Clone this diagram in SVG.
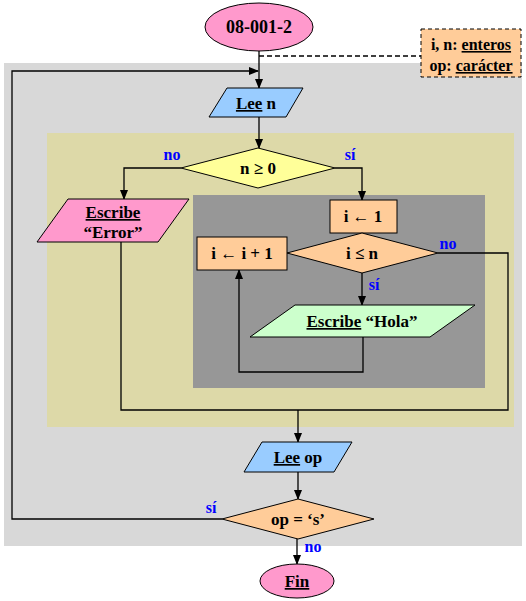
<svg xmlns="http://www.w3.org/2000/svg" width="526" height="601" viewBox="0 0 526 601">
<defs>
<marker id="ah" markerWidth="10" markerHeight="10" refX="9" refY="5" orient="auto" markerUnits="userSpaceOnUse">
<path d="M0,1 L10,5 L0,9 Z" fill="#000"/>
</marker>
<style>
text{font-family:"Liberation Serif","Times New Roman",serif;font-size:17px;fill:#000;text-anchor:middle}
.b{font-weight:bold}
.u{text-decoration:underline}
.lbl{font-weight:bold;fill:#0000FF;font-size:16px}
.sh{stroke:#000;stroke-width:1}
.ln{fill:none;stroke:#000;stroke-width:1.3}
.ar{fill:none;stroke:#000;stroke-width:1.3;marker-end:url(#ah)}
</style>
</defs>
<rect x="0" y="0" width="526" height="601" fill="#fff"/>
<g id="regions">
<rect x="4" y="63" width="518" height="483" fill="#D8D8D8"/>
<rect x="47" y="133" width="467" height="294" fill="#DDD9A8"/>
<rect x="193" y="195" width="292" height="193" fill="#979797"/>
</g>
<g id="connectors">
<line class="ar" x1="259" y1="51" x2="259" y2="88"/>
<polyline class="ar" points="222,519 12,519 12,71 258,71"/>
<line class="ln" x1="259" y1="56" x2="421" y2="56" stroke-dasharray="5,3"/>
<line class="ar" x1="259" y1="117" x2="259" y2="148"/>
<polyline class="ar" points="181,168 124,168 124,199"/>
<polyline class="ar" points="335,168 362,168 362,200"/>
<line class="ar" x1="362" y1="273" x2="362" y2="305"/>
<polyline class="ar" points="363,337 363,372 239,372 239,270"/>
<polyline class="ln" points="438,253 508,253 508,410 121,410 121,242"/>
<line class="ar" x1="298" y1="410" x2="298" y2="442"/>
<line class="ar" x1="298" y1="472" x2="298" y2="499"/>
<line class="ar" x1="297" y1="538" x2="297" y2="564"/>
<text class="lbl" x="172" y="160">no</text>
<text class="lbl" x="350" y="160">sí</text>
<text class="lbl" x="448" y="249">no</text>
<text class="lbl" x="374" y="290">sí</text>
<text class="lbl" x="211" y="513">sí</text>
<text class="lbl" x="313" y="552">no</text>
</g>
<g id="start">
<ellipse class="sh" cx="259" cy="27" rx="54" ry="24" fill="#FF99CC"/>
<text class="b" x="259" y="33" style="font-size:18px">08-001-2</text>
</g>
<g id="decl">
<rect x="421" y="29" width="100" height="48" fill="#FFCC99" stroke="#000" stroke-dasharray="4,3"/>
<text x="471" y="50" style="font-size:16px"><tspan class="b">i, n: </tspan><tspan class="b u">enteros</tspan></text>
<text x="471" y="71" style="font-size:16px"><tspan class="b">op: </tspan><tspan class="b u">carácter</tspan></text>
</g>
<g id="leen">
<polygon class="sh" points="227,88 303,88 286,117 209,117" fill="#99CCFF"/>
<text class="b" x="256" y="109"><tspan class="u">Lee</tspan> n</text>
</g>
<g id="cond1">
<polygon class="sh" points="181,168 258,148 335,168 258,188" fill="#FFFF99"/>
<text class="b" x="258" y="174">n ≥ 0</text>
</g>
<g id="error">
<polygon class="sh" points="68,199 189,199 158,242 37,242" fill="#FF99CC"/>
<text class="b u" x="113" y="218">Escribe</text>
<text class="b" x="113" y="238">“Error”</text>
</g>
<g id="init">
<rect class="sh" x="330" y="200" width="67" height="33" fill="#FFCC99"/>
<text class="b" x="363" y="222">i ← 1</text>
</g>
<g id="cond2">
<polygon class="sh" points="287,253 362,233 438,253 362,273" fill="#FFCC99"/>
<text class="b" x="362" y="259">i ≤ n</text>
</g>
<g id="inc">
<rect class="sh" x="197" y="237" width="90" height="33" fill="#FFCC99"/>
<text class="b" x="242" y="259">i ← i + 1</text>
</g>
<g id="hola">
<polygon class="sh" points="295,305 475,305 430,337 250,337" fill="#CCFFCC"/>
<text class="b" x="362" y="327"><tspan class="u">Escribe</tspan> “Hola”</text>
</g>
<g id="leeop">
<polygon class="sh" points="262,442 352,442 334,472 244,472" fill="#99CCFF"/>
<text class="b" x="298" y="463"><tspan class="u">Lee</tspan> op</text>
</g>
<g id="cond3">
<polygon class="sh" points="222,519 298,499 374,519 298,539" fill="#FFCC99"/>
<text class="b" x="298" y="525">op = ‘s’</text>
</g>
<g id="fin">
<ellipse class="sh" cx="297" cy="581" rx="37" ry="17" fill="#FF99CC"/>
<text class="b u" x="297" y="587">Fin</text>
</g>
</svg>
